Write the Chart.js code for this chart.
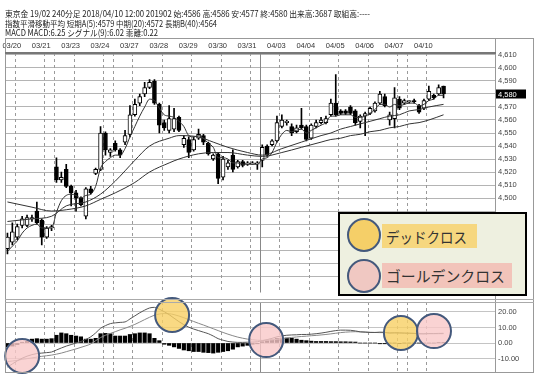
<!DOCTYPE html>
<html><head><meta charset="utf-8">
<script src="https://cdn.jsdelivr.net/npm/chart.js@4.4.0/dist/chart.umd.min.js"></script>
<style>
html,body{margin:0;padding:0;background:#fff;}
#wrap{position:relative;width:546px;height:382px;overflow:hidden;font-family:"Noto Sans CJK JP","Noto Sans",sans-serif;}
canvas{position:absolute;left:0;}
#main{top:0;z-index:1;}
#macd{top:290px;z-index:2;}
.hdr{position:absolute;left:5px;font-size:8.5px;line-height:10px;color:#222;white-space:nowrap;transform-origin:0 50%;z-index:5;}
.ln{position:absolute;background:#999;z-index:3;}
#legend{position:absolute;left:338px;top:212px;width:185px;height:80px;border:2.5px solid #000;background:#EEF0E0;z-index:6;}
.lbg{position:absolute;font-size:15px;color:#333;white-space:nowrap;}
.lbg span{position:absolute;left:4px;top:50%;transform-origin:0 50%;display:inline-block;line-height:1;}
.lc{position:absolute;width:34px;height:34px;border-radius:50%;border:2px solid #44597C;box-sizing:border-box;}
</style></head>
<body>
<div id="wrap">
  <canvas id="main" width="546" height="300"></canvas>
  <canvas id="macd" width="546" height="92"></canvas>
  <div class="hdr" id="h1" style="top:8px" data-w="365"></div>
  <div class="hdr" id="h2" style="top:18px" data-w="212"></div>
  <div class="hdr" id="h3" style="top:27px" data-w="153"></div>
  <div class="ln" style="left:5px;top:38px;width:529px;height:1px"></div>
  <div class="ln" style="left:5px;top:38px;width:1px;height:335px"></div>
  <div class="ln" style="left:533px;top:38px;width:1px;height:335px"></div>
  <div class="ln" style="left:5px;top:372px;width:529px;height:1px"></div>
  <div class="ln" style="left:495px;top:38px;width:1px;height:335px"></div>
  <div class="ln" style="left:5px;top:52px;width:491px;height:2px;background:#777"></div>
  <div class="ln" style="left:5px;top:299px;width:529px;height:1px;background:#aaa"></div>
  <div class="ln" style="left:5px;top:302px;width:529px;height:1px;background:#aaa"></div>
  <div id="legend">
    <div class="lbg" style="left:41.5px;top:9.5px;width:95px;height:24px;background:#F6D77F;"><span data-w="81">デッドクロス</span></div>
    <div class="lbg" style="left:41.5px;top:48.5px;width:130px;height:25px;background:#F2C4BA;"><span data-w="119">ゴールデンクロス</span></div>
    <div class="lc" style="left:7px;top:3.5px;background:#F5CF68;"></div>
    <div class="lc" style="left:7px;top:45px;background:#F0C8C2;"></div>
  </div>
</div>
<script>
// ---- data ----
const dayLabels = ['03/20','03/21','03/23','03/24','03/27','03/28','03/29','03/30','03/31','04/03','04/04','04/05','04/06','04/07','04/10'];
const dayStart = [1.5,7.5,13.5,19.5,25.5,31.5,37.5,43.5,49.5,55.5,61.5,67.5,73.5,79.5,85.5];
const extraLines = [9.5,21.5,51.5,81.5];
const monthLine = 51.5;

const opens = [4461,4466,4470,4479,4479,4484,4490,4483,4470,4477,
4524,4514,4522,4509,4504,4500,4486,4507,4519,4522,
4550,4535,4542,4537,4543,4549,4564,4573,4580,4585,
4590,4572,4558,4552,4553,4562,4541,4545,4537,4546,
4548,4542,4530,4534,4516,4524,4533,4524,4528,4526,
4526,4526,4529,4540,4541,4544,4555,4558,4555,4551,
4556,4555,4546,4555,4558,4558,4564,4573,4567,4567,
4570,4567,4559,4563,4565,4567,4573,4578,4560,4561,
4576,4573,4574,4575,4571,4569,4576,4579,4580,4586];
const closes = [4470,4474,4478,4484,4485,4485,4481,4470,4477,4478,
4514,4516,4509,4504,4500,4495,4507,4504,4522,4550,
4537,4537,4537,4533,4548,4564,4572,4578,4585,4589,
4573,4556,4554,4561,4561,4552,4546,4535,4545,4549,
4543,4534,4533,4515,4530,4527,4522,4528,4525,4527,
4527,4527,4539,4533,4544,4558,4560,4559,4550,4554,
4554,4545,4556,4558,4560,4561,4573,4564,4565,4565,
4565,4558,4563,4565,4569,4573,4580,4571,4564,4577,
4569,4575,4575,4574,4566,4575,4582,4577,4585,4580];
const highs = [4473,4481,4480,4486,4487,4487,4497,4484,4478,4479,
4531,4520,4526,4510,4506,4501,4508,4509,4523,4555,
4551,4538,4544,4538,4552,4571,4576,4580,4589,4591,
4591,4573,4560,4571,4569,4563,4548,4547,4547,4553,
4549,4543,4534,4535,4532,4529,4537,4529,4529,4528,
4528,4528,4541,4541,4545,4563,4564,4560,4557,4556,
4569,4556,4557,4560,4562,4563,4576,4595,4568,4568,
4571,4568,4564,4566,4570,4574,4582,4580,4566,4585,
4578,4576,4575,4576,4572,4576,4586,4580,4587,4586];
const lows = [4457,4464,4468,4477,4478,4482,4480,4464,4469,4475,
4512,4512,4508,4494,4490,4494,4484,4503,4518,4521,
4533,4532,4536,4531,4541,4547,4563,4571,4578,4584,
4572,4550,4552,4550,4551,4551,4539,4531,4536,4545,
4541,4533,4529,4511,4514,4522,4520,4523,4524,4525,
4526,4522,4524,4532,4540,4543,4554,4556,4548,4550,
4553,4544,4545,4554,4557,4557,4563,4563,4564,4564,
4564,4556,4554,4548,4564,4566,4572,4570,4556,4554,
4568,4572,4573,4573,4565,4568,4575,4576,4579,4577];

const ema5 = [4459,4463,4467,4473,4477,4479,4480,4477,4477,4477,
4489,4498,4502,4503,4502,4500,4502,4503,4509,4523,
4528,4531,4533,4533,4538,4547,4555,4563,4570,4576,
4575,4569,4564,4563,4562,4559,4555,4548,4547,4548,
4546,4542,4539,4531,4531,4530,4527,4527,4526,4526,
4526,4526,4530,4531,4535,4543,4549,4552,4551,4552,
4553,4550,4552,4554,4556,4558,4563,4563,4564,4564,
4564,4562,4562,4563,4565,4568,4572,4572,4570,4572,
4571,4572,4573,4573,4571,4572,4575,4576,4579,4579];
const maIdx = [0,5,9,12,16,19,22,26,29,33,35,39,42,45,49,52,56,60,64,66,68,70,72,74,76,78,80,82,84,86,89];
const ema20 = [4482,4484,4486,4494,4497,4503,4513,4529,4540,4546,4548,4547,4543,4539,4535,4533,4538,4543,4548,4550,4553,4555,4557,4559,4561,4563,4564,4567,4568,4570,4572];
const ema40 = [4497,4493,4490,4491,4494,4499,4504,4512,4520,4527,4530,4534,4535,4535,4533,4532,4535,4539,4543,4545,4546,4548,4549,4551,4552,4554,4555,4557,4558,4560,4564];

const macd = [-15.5,-13.5,-11.5,-9.8,-8.5,-7.5,-6.8,-6.5,-6.2,-5.8,
-4.5,-3.2,-2,-1,0,1,2.3,4,6.5,9.5,
11.2,12.5,13,13.3,13.6,15.5,17.5,19.5,21.2,22.6,
23,21.8,20.2,18.3,16,13.8,11.8,10.2,9,8,
7,6,4.5,2.8,1.8,1,0.6,0.4,0.4,0.5,
0.6,0.8,1.5,2.2,3,4,4.6,5,5.2,5.3,
5.5,5.5,5.7,6,6.4,6.9,7.5,8,8.3,8.3,
8.2,7.8,7.2,7,6.8,6.8,7,6.9,6.4,6.6,
6.5,6.4,6.3,6.2,5.9,5.9,6.1,6.1,6.2,6.25];
const signal = [-12,-11.6,-11.2,-10.5,-10.1,-9.6,-9.1,-8.6,-8.2,-7.8,
-7.2,-6.5,-5.6,-4.7,-3.8,-2.8,-1.8,-0.6,1.5,3.5,
5,6.2,7.3,8.5,9.5,10.7,12,13.5,15.1,16.6,
17.9,18.7,19,18.9,18.3,17.4,16.3,15.1,13.9,12.7,
11.6,10.4,9.2,8,6.8,5.7,4.7,3.8,3.1,2.5,
2.1,1.8,1.7,1.8,2,2.4,2.8,3.2,3.6,3.9,
4.2,4.4,4.7,4.9,5.2,5.5,5.9,6.3,6.7,7,
7.2,7.3,7.2,7.1,6.9,6.8,6.7,6.7,6.6,6.5,
6.5,6.4,6.3,6.2,6.1,6,6,6,6,6.02];
const hist = [-2.5,-2,-1,0.5,1,2.5,2.8,2.5,2.5,2.8,
5,6.5,6,5,4.5,4,2.5,2.5,3,6,
6.2,6,4.5,4.5,4.5,5.5,6,6.5,6.5,6,
3,1.5,-0.8,-1.5,-2.5,-3.5,-4.5,-5,-5.5,-5.5,
-6,-6.2,-6.5,-6,-5.5,-5,-4,-2.5,-2,-1.5,
-0.8,-0.5,0.8,1.5,2,3,3.2,3.2,3,2.5,
1.8,1.5,1.2,1,1,1,0.9,0.9,0.8,0.8,
0.7,0.6,0,0,0,0,-0.5,-0.5,0,0,
-0.4,0,0,0,0,0,0,0,0.3,0.22];

const priceTicks = [4440,4450,4460,4470,4480,4490,4500,4510,4520,4530,4540,4550,4560,4570,4580,4590,4600,4610];
const priceLabelMin = 4500;
const macdTicks = [-10,0,10,20];

const crossIdx = [3, 33.6, 52.8, 80.3, 87.05];
const crossVal = [-8.4, 18.1, 1.9, 6.5, 7.7];
const crossKind = ['golden','dead','golden','dead','golden'];

// ---- header text ----
const L = closes.length - 1;
document.getElementById('h1').textContent =
  `東京金 19/02 240分足 2018/04/10 12:00 201902 始:${opens[L]} 高:${highs[L]} 安:${lows[L]} 終:${closes[L]} 出来高:3687 取組高:----`;
document.getElementById('h2').textContent =
  `指数平滑移動平均 短期A(5):${ema5[L]} 中期(20):${ema20[ema20.length-1]} 長期B(40):${ema40[ema40.length-1]}`;
document.getElementById('h3').textContent =
  `MACD MACD:${macd[L].toFixed(2)} シグナル(9):${signal[L].toFixed(2)} 乖離:${hist[L].toFixed(2)}`;

function fitText(){
  document.querySelectorAll('[data-w]').forEach(el=>{
    const base = el.classList.contains('hdr') ? '' : 'translateY(-50%) ';
    el.style.transform = base;
    const w = el.getBoundingClientRect().width;
    el.style.transform = base + `scaleX(${(+el.dataset.w)/w})`;
  });
}
fitText();
if (document.fonts && document.fonts.ready) document.fonts.ready.then(fitText);

// ---- charts ----
Chart.defaults.font.family = '"Liberation Sans","DejaVu Sans",sans-serif';
Chart.defaults.animation = false;

const vlines = {
  id:'vlines',
  beforeDatasetsDraw(chart){
    const {ctx, chartArea:a} = chart; const x = chart.scales.x;
    ctx.save(); ctx.lineWidth = 1;
    dayStart.concat(extraLines).forEach(v=>{
      const px = Math.round(x.getPixelForValue(v)) + 0.5;
      const solid = v === monthLine;
      ctx.strokeStyle = solid ? '#888' : '#9a9a9a';
      ctx.setLineDash(solid ? [] : [3,3]);
      ctx.beginPath(); ctx.moveTo(px, a.top); ctx.lineTo(px, a.bottom); ctx.stroke();
    });
    ctx.restore();
  }
};
const dateLabels = {
  id:'dateLabels',
  afterDraw(chart){
    const ctx = chart.ctx, x = chart.scales.x;
    ctx.save();
    ctx.font = '7.5px "Liberation Sans"';
    ctx.fillStyle = '#333';
    ctx.textAlign = 'center';
    ctx.textBaseline = 'middle';
    dayStart.forEach((v,k)=>{
      ctx.fillText(dayLabels[k], x.getPixelForValue(v) - 3, chart.chartArea.top - 7.5);
    });
    ctx.restore();
  }
};
const lastTag = {
  id:'lastTag',
  afterDraw(chart){
    const y = chart.scales.y, ctx = chart.ctx;
    const v = closes[L];
    const py = Math.round(y.getPixelForValue(v));
    ctx.save();
    ctx.fillStyle = '#000';
    ctx.fillRect(chart.chartArea.right + 1, py - 4.5, 30, 9);
    ctx.fillStyle = '#fff';
    ctx.font = '7.5px "Liberation Sans"';
    ctx.textBaseline = 'middle';
    ctx.fillText(v.toLocaleString('en-US'), chart.chartArea.right + 3, py + 0.5);
    ctx.restore();
  }
};
const crossMarks = {
  id:'crossMarks',
  afterDatasetsDraw(chart){
    const ctx = chart.ctx, x = chart.scales.x, y = chart.scales.y;
    ctx.save();
    crossIdx.forEach((v,k)=>{
      const px = x.getPixelForValue(v), py = y.getPixelForValue(crossVal[k]);
      ctx.beginPath(); ctx.arc(px, py, 17, 0, Math.PI*2);
      ctx.fillStyle = crossKind[k] === 'dead' ? 'rgba(247,208,100,0.8)' : 'rgba(249,200,200,0.8)';
      ctx.fill();
      ctx.lineWidth = 2; ctx.strokeStyle = '#44597C'; ctx.stroke();
    });
    ctx.restore();
  }
};

const xBase = {type:'linear', min:-0.5, max:99.5, offset:false, bounds:'data', grid:{display:false}, border:{display:false}};

const bodies = opens.map((o,i)=>({x:i, y:[Math.min(o,closes[i]), Math.max(o,closes[i])]}));
const wicks = lows.map((l,i)=>({x:i, y:[l, highs[i]]}));
const bodyColors = opens.map((o,i)=> closes[i] >= o ? '#fff' : '#000');
const lineDs = (pts, color) => ({type:'line', data:pts, borderColor:color, borderWidth:1, pointRadius:0, cubicInterpolationMode:'monotone', order:0});

new Chart(document.getElementById('main'), {
  type:'bar',
  data:{datasets:[
    lineDs(ema5.map((v,i)=>({x:i,y:v})), '#333'),
    lineDs(maIdx.map((i,k)=>({x:i,y:ema20[k]})), '#333'),
    lineDs(maIdx.map((i,k)=>({x:i,y:ema40[k]})), '#333'),
    {type:'bar', data:bodies, backgroundColor:bodyColors, borderColor:'#000', borderWidth:1, borderSkipped:false, barThickness:4, grouped:false, order:1},
    {type:'bar', data:wicks, backgroundColor:'#000', barThickness:1, grouped:false, order:2}
  ]},
  options:{
    responsive:false, animation:false,
    layout:{padding:{top:38, left:5, right:0, bottom:1}},
    plugins:{legend:{display:false}, tooltip:{enabled:false}},
    scales:{
      x:Object.assign({}, xBase, {
        position:'top',
        ticks:{display:false},
        afterFit: ax => { ax.height = 15; }
      }),
      y:{type:'linear', position:'right', min:4427.4, max:4611.5,
        afterBuildTicks: ax => { ax.ticks = priceTicks.map(v=>({value:v})); },
        afterFit: ax => { ax.width = 51; },
        grid:{color:'#b4b4b4', drawTicks:false, lineWidth:1},
        border:{display:false},
        ticks:{padding:3, color:'#444', font:{size:7.5}, callback:v=> v >= priceLabelMin ? v.toLocaleString('en-US') : ''}
      }
    }
  },
  plugins:[vlines, dateLabels, lastTag]
});

new Chart(document.getElementById('macd'), {
  type:'bar',
  data:{datasets:[
    lineDs(macd.map((v,i)=>({x:i,y:v})), '#555'),
    lineDs(signal.map((v,i)=>({x:i,y:v})), '#888'),
    {type:'bar', data:hist.map((v,i)=>({x:i,y:v})), backgroundColor:'#000', barThickness:3.5, grouped:false, order:1}
  ]},
  options:{
    responsive:false, animation:false,
    layout:{padding:{top:12, left:5, right:0, bottom:10}},
    plugins:{legend:{display:false}, tooltip:{enabled:false}},
    scales:{
      x:Object.assign({}, xBase, {display:false}),
      y:{type:'linear', position:'right', min:-18.7, max:26.45,
        afterBuildTicks: ax => { ax.ticks = macdTicks.map(v=>({value:v})); },
        afterFit: ax => { ax.width = 51; },
        grid:{color:'#c4c4c4', drawTicks:false},
        border:{display:false},
        ticks:{padding:3, color:'#444', font:{size:7.5}, callback:v=> v.toFixed(2)}
      }
    }
  },
  plugins:[vlines, crossMarks]
});
</script>
</body></html>
